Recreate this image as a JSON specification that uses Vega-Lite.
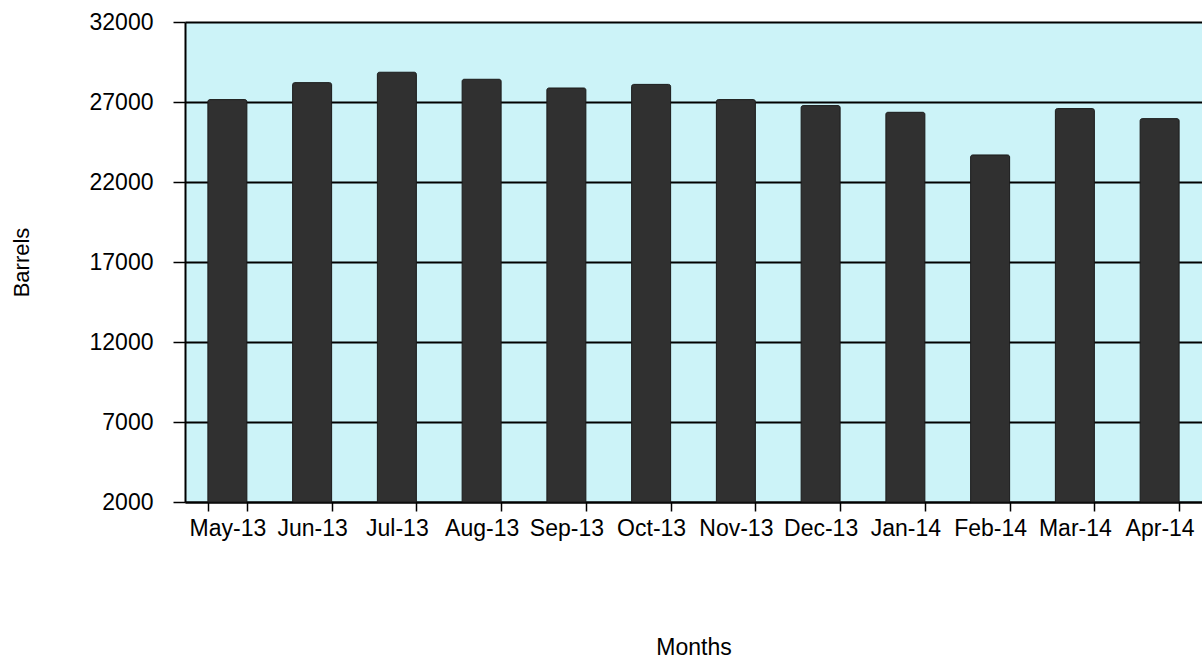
{
  "$schema": "https://vega.github.io/schema/vega-lite/v6.json",
  "width": 1017,
  "height": 480,
  "autosize": {"type": "none"},
  "padding": {"left": 185, "top": 22, "right": 0, "bottom": 159},
  "background": "white",
  "config": {
    "view": {"fill": "#CCF3F8", "stroke": null},
    "font": "Liberation Sans"
  },
  "data": {
    "values": [
      {"month": "May-13", "barrels": 27150},
      {"month": "Jun-13", "barrels": 28210},
      {"month": "Jul-13", "barrels": 28860},
      {"month": "Aug-13", "barrels": 28420},
      {"month": "Sep-13", "barrels": 27875},
      {"month": "Oct-13", "barrels": 28100},
      {"month": "Nov-13", "barrels": 27150},
      {"month": "Dec-13", "barrels": 26775},
      {"month": "Jan-14", "barrels": 26356},
      {"month": "Feb-14", "barrels": 23690},
      {"month": "Mar-14", "barrels": 26587},
      {"month": "Apr-14", "barrels": 25960}
    ]
  },
  "mark": {"type": "bar", "color": "#303030", "stroke": "#1a1a1a", "strokeWidth": 1, "cornerRadiusTopLeft": 2, "cornerRadiusTopRight": 2},
  "encoding": {
    "x": {
      "field": "month",
      "type": "nominal",
      "sort": null,
      "scale": {"paddingInner": 0.54, "paddingOuter": 0.27},
      "axis": {
        "title": "Months",
        "labelAngle": 0,
        "labelFontSize": 23,
        "labelColor": "black",
        "labelPadding": 6,
        "tickBand": "extent",
        "tickSize": 9,
        "tickColor": "black",
        "tickWidth": 1.5,
        "domainColor": "black",
        "domainWidth": 2,
        "titleFontSize": 23,
        "titleFontWeight": "normal",
        "titleColor": "black",
        "titlePadding": 96
      }
    },
    "y": {
      "field": "barrels",
      "type": "quantitative",
      "scale": {"domain": [2000, 32000], "zero": false, "nice": false},
      "axis": {
        "title": "Barrels",
        "values": [2000, 7000, 12000, 17000, 22000, 27000, 32000],
        "format": "d",
        "labelFontSize": 23,
        "labelColor": "black",
        "labelPadding": 20,
        "tickSize": 12,
        "tickColor": "black",
        "tickWidth": 1.5,
        "domainColor": "black",
        "domainWidth": 2,
        "grid": true,
        "gridColor": "black",
        "gridWidth": 2,
        "gridOpacity": 1,
        "titleFontSize": 22,
        "titleFontWeight": "normal",
        "titleColor": "black",
        "titlePadding": 56
      }
    },
    "y2": {"datum": 2000}
  }
}
